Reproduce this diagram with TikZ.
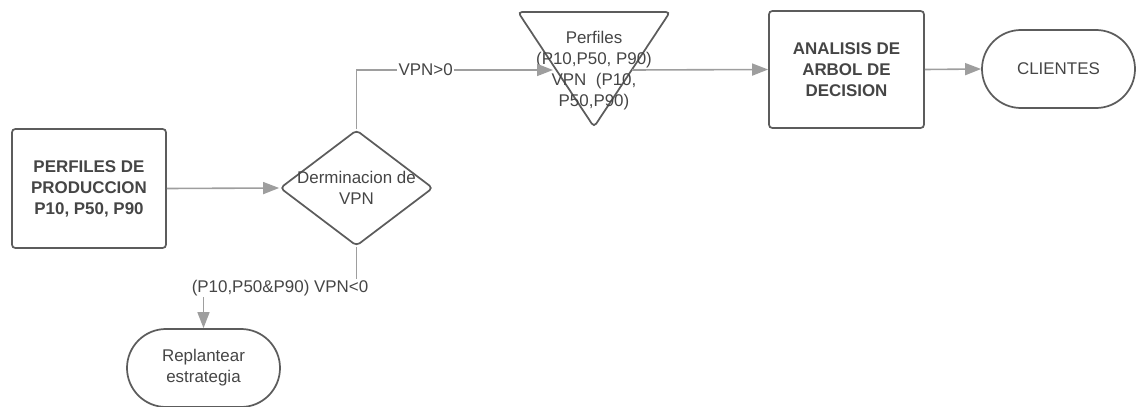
\documentclass[tikz,border=0pt]{standalone}
\usepackage{fontspec}
\setmainfont{Liberation Sans}
\usetikzlibrary{arrows.meta,shapes.geometric}
\definecolor{edge}{HTML}{5C5C5C}
\definecolor{wire}{HTML}{9E9E9E}
\definecolor{ink}{HTML}{454545}
\begin{document}
\begin{tikzpicture}[x=0.75pt,y=-0.75pt,
  font=\fontsize{12.7}{15.75}\selectfont, text=ink,
  outline/.style={draw=edge,line width=1.3pt},
  box/.style={outline,rounded corners=2.5pt,align=center,inner sep=0pt,
    font=\fontsize{12.7}{15.75}\selectfont\bfseries},
  terminal/.style={outline,rounded corners=29.25pt,align=center,inner sep=0pt,
    minimum width=114.75pt,minimum height=58.5pt},
  decision/.style={diamond,outline,rounded corners=3pt,inner sep=0pt,
    minimum width=114.75pt,minimum height=87pt},
  link/.style={draw=wire,line width=1.2pt,-{Triangle[length=12pt,width=9pt]}},
  lbl/.style={fill=white,inner sep=1pt}
]
\useasboundingbox (0,0) rectangle (1136,407);

% production profiles
\node[box,minimum width=115.5pt,minimum height=89.25pt] (prod) at (89,188.5)
  {PERFILES DE\\PRODUCCION\\P10, P50, P90};

% NPV decision
\node[decision] (dec) at (356.5,188) {};
\node[align=center] (dectxt) at (dec.center) {Derminacion de\\VPN};

% profiles (inverted triangle)
\coordinate (tA) at (518,12);
\coordinate (tB) at (670,12);
\coordinate (tC) at (594,127);
\draw[outline,rounded corners=3pt] (tA) -- (tB) -- (tC) -- cycle;
\node[align=center] (perf) at (594,71)
  {Perfiles\\(P10,P50, P90)\\VPN\ \ (P10,\\P50,P90)};
\coordinate (tri-in) at (553,70);
\coordinate (tri-out) at (632,70);

% decision tree analysis
\node[box,minimum width=116.25pt,minimum height=87.75pt] (arbol) at (846.5,69.5)
  {ANALISIS DE\\ARBOL DE\\DECISION};

% terminals
\node[terminal] (cli) at (1058.5,69) {CLIENTES};
\node[terminal] (repl) at (203.5,368) {Replantear\\estrategia};

% connectors
\draw[link] (prod.east) -- (dec.west);
\draw[link] (dec.north) |- node[lbl,pos=0.676] {VPN>0} (tri-in);
\draw[link] (tri-out) -- (arbol.west);
\draw[link] (arbol.east) -- (cli.west);
\draw[link] (dec.south) -- ++(0,41) -| node[lbl,pos=0.25] {(P10,P50\&P90) VPN<0} (repl.north);
\end{tikzpicture}
\end{document}
